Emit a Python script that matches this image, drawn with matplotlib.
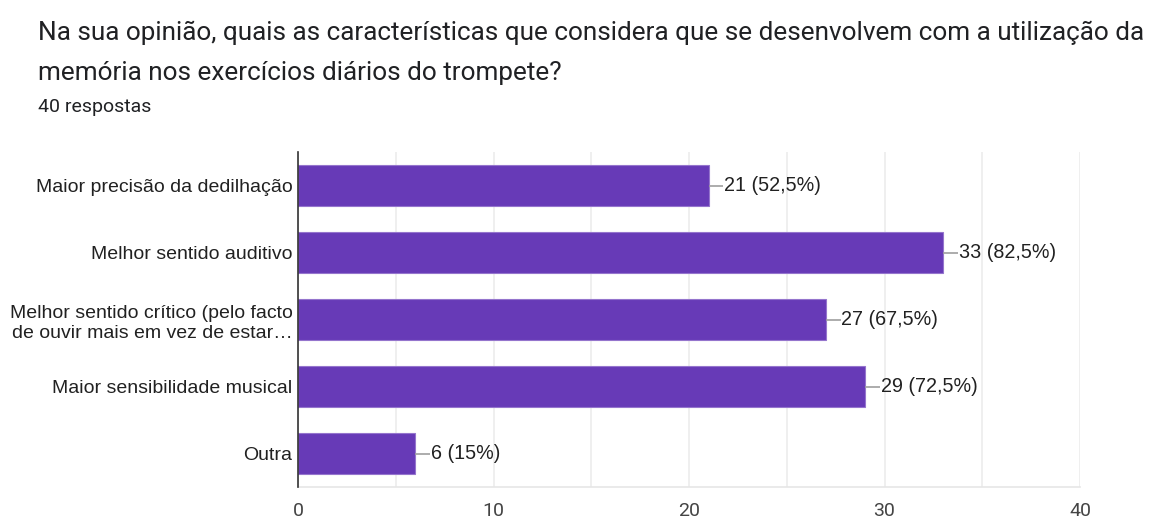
import matplotlib.pyplot as plt
from matplotlib.ticker import MultipleLocator

# data
categorias = [
    "Maior precisão da dedilhação",
    "Melhor sentido auditivo",
    "Melhor sentido crítico (pelo facto\nde ouvir mais em vez de estar…",
    "Maior sensibilidade musical",
    "Outra",
]
contagens = [21, 33, 27, 29, 6]
percentagens = ["52,5%", "82,5%", "67,5%", "72,5%", "15%"]
total = 40

titulo_l1 = "Na sua opinião, quais as características que considera que se desenvolvem com a utilização da"
titulo_l2 = "memória nos exercícios diários do trompete?"
subtitulo = f"{total} respostas"

fig = plt.figure(figsize=(11.54, 5.16), dpi=100)
ax = fig.add_axes([298 / 1154, 1 - 487 / 516, (1080 - 298) / 1154, (487 - 152) / 516])

y = list(range(len(categorias)))
ax.barh(y, contagens, height=0.61, color="#673ab7", edgecolor="#9575cd", linewidth=0.8, zorder=3)

# connector line + value label for each bar
for yi, c, p in zip(y, contagens, percentagens):
    ax.plot([c, c + 0.75], [yi, yi], color="#9e9e9e", lw=1.2, zorder=4, solid_capstyle="butt")
    ax.text(c + 0.8, yi, f"{c} ({p})", va="center", ha="left", fontsize=14.2,
            family="Liberation Sans", color="#212121")

ax.set_xlim(0, 40)
ax.set_ylim(4.5, -0.5)
ax.set_yticks(y)
ax.set_yticklabels(categorias, fontsize=14, family="Liberation Sans", color="#212121",
                   linespacing=1.3)
ax.xaxis.set_major_locator(MultipleLocator(10))
ax.xaxis.set_minor_locator(MultipleLocator(5))
ax.tick_params(axis="y", length=0, pad=4)
ax.tick_params(axis="x", which="both", length=0, pad=11, labelsize=14, labelcolor="#444444")
for lbl in ax.get_xticklabels():
    lbl.set_family("Roboto")

ax.grid(axis="x", which="both", color="#ececec", lw=1.2, zorder=0)

for s in ["top", "right"]:
    ax.spines[s].set_visible(False)
ax.spines["bottom"].set_color("#e6e6e6")
ax.spines["bottom"].set_linewidth(1.2)
ax.spines["left"].set_color("#333333")
ax.spines["left"].set_linewidth(1.2)
ax.spines["left"].set_zorder(5)

fig.text(38 / 1154, 1 - 40 / 516, titulo_l1, ha="left", va="baseline", fontsize=18.85,
         family="Roboto", color="#202124")
fig.text(38 / 1154, 1 - 80 / 516, titulo_l2, ha="left", va="baseline", fontsize=18.85,
         family="Roboto", color="#202124")
fig.text(38 / 1154, 1 - 112 / 516, subtitulo, ha="left", va="baseline", fontsize=14,
         family="Roboto", color="#202124")

fig.savefig("out.png", dpi=100, facecolor="white")
